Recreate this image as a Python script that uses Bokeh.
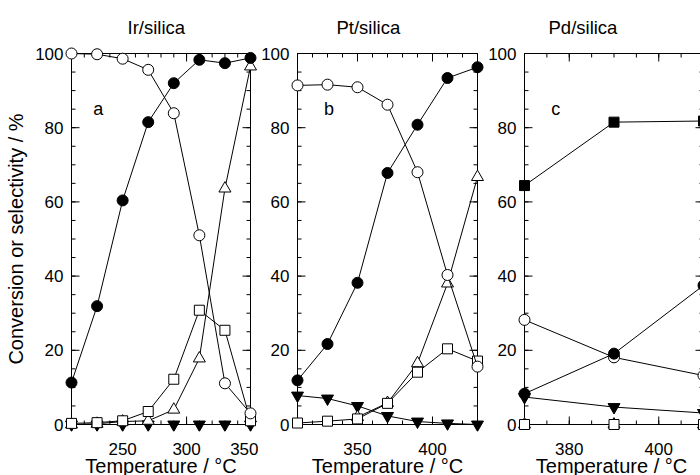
from bokeh.plotting import figure
from bokeh.models import Range1d, FixedTicker, Label
from bokeh.layouts import row
from bokeh.embed import file_html
from bokeh.resources import INLINE

FONT = "Liberation Sans"
NAN = float("nan")

# ---- Data: Ir/silica ----
ir_T = [210, 230, 250, 270, 290, 310, 330, 350]
ir_conv = [11.3, 31.9, 60.4, 81.5, 92.0, 98.3, 97.4, 98.8]
ir_ocirc = [100.0, 99.8, 98.6, 95.6, 83.9, 51.0, 11.1, 3.0]
ir_tri = [0.0, 0.2, 0.8, 1.0, 4.0, 17.8, 63.6, 96.5]
ir_sq = [0.3, 0.5, 1.0, 3.5, 12.2, 30.8, 25.4, 1.0]
ir_dtri = [0, 0, 0, 0, 0, 0, 0, 0]

# ---- Data: Pt/silica ----
pt_T = [310, 330, 350, 370, 390, 410, 430]
pt_conv = [11.9, 21.7, 38.2, 67.8, 80.8, 93.4, 96.3]
pt_ocirc = [91.4, 91.6, 90.9, 86.2, 68.0, 40.3, 15.6]
pt_tri_T = [350, 370, 390, 410, 430]
pt_tri = [2.0, 5.8, 16.5, 38.0, 66.7]
pt_sq = [0.4, 0.9, 1.5, 5.7, 14.1, 20.4, 17.1]
pt_dtri = [7.8, 7.0, 5.0, 2.3, 0.8, 0.3, 0.0]

# ---- Data: Pd/silica ----
pd_T = [370, 390, 410]
pd_fsq = [64.4, 81.5, 81.8]
pd_conv = [8.3, 19.1, 37.5]
pd_ocirc = [28.2, 18.1, 13.2]
pd_dtri = [7.4, 4.7, 3.1]
pd_sq = [0, 0, 0]
pd_tri = [0, 0, 0]

# axis limits and ticks
ir_xlim = (210, 350)
pt_xlim = (310, 430)
pd_xlim = (370, 410)
ylim = (0, 100)
ir_xmaj = [250, 300, 350]
pt_xmaj = [350, 400]
pd_xmaj = [380, 400]
ir_xmin = list(range(210, 351, 10))
pt_xmin = list(range(310, 431, 10))
pd_xmin = list(range(370, 411, 5))
y_major = [0, 20, 40, 60, 80, 100]
y_minor = list(range(0, 101, 5))

# ---- layout (pixels) ----
Y_TOP, Y_BOT = 53, 424      # page y of the 100 and 0 lines
PAD = 7                     # room around the axes box for edge markers
TOTAL_H = 475
MAJ_LEN, MIN_LEN = 8, 4


def tick_path(ticks, base, length, vertical):
    a, b = [], []
    for t in ticks:
        a += [t, t, NAN]
        b += [base, base + length, NAN]
    return (a, b) if vertical else (b, a)


def make_panel(title, xlim, xmaj, xmin, fig_left, fig_right, ax_left, ax_right,
               ylabel, letter, lx, title_offset):
    frame_l = ax_left - PAD
    frame_r = min(ax_right + PAD, fig_right)
    sx = (ax_right - ax_left) / (xlim[1] - xlim[0])
    sy = (Y_BOT - Y_TOP) / (ylim[1] - ylim[0])
    xr = Range1d(xlim[0] - (ax_left - frame_l) / sx, xlim[1] + (frame_r - ax_right) / sx)
    yr = Range1d(ylim[0] - PAD / sy, ylim[1] + PAD / sy)
    p = figure(frame_width=frame_r - frame_l, frame_height=(Y_BOT - Y_TOP) + 2 * PAD,
               output_backend="svg", toolbar_location=None, x_range=xr, y_range=yr,
               min_border_left=frame_l - fig_left, min_border_right=fig_right - frame_r,
               min_border_top=Y_TOP - PAD, min_border_bottom=TOTAL_H - (Y_BOT + PAD),
               title=title)
    p.title.align = "left"
    p.title.offset = title_offset
    p.title.standoff = 18
    p.title.text_font = FONT
    p.title.text_font_size = "18.5px"
    p.title.text_font_style = "normal"
    p.title.text_color = "black"
    p.grid.visible = False
    p.outline_line_color = None
    p.background_fill_color = "white"
    p.border_fill_color = "white"

    # library axes carry the tick labels and axis titles
    xa = p.xaxis[0]
    ya = p.yaxis[0]
    xa.ticker = FixedTicker(ticks=xmaj, minor_ticks=[])
    ya.ticker = FixedTicker(ticks=y_major, minor_ticks=[])
    xa.axis_label = "Temperature / °C"
    if ylabel:
        ya.axis_label = "Conversion or selectivity / %"
    for ax in [xa, ya]:
        ax.axis_line_color = None
        ax.major_tick_line_color = None
        ax.minor_tick_line_color = None
        ax.major_tick_out = 0
        ax.major_tick_in = 0
        ax.major_label_text_font = FONT
        ax.major_label_text_font_size = "17px"
        ax.major_label_text_color = "black"
        ax.axis_label_text_font = FONT
        ax.axis_label_text_font_size = "20px"
        ax.axis_label_text_font_style = "normal"
        ax.axis_label_text_color = "black"
    xa.major_label_standoff = 11
    xa.axis_label_standoff = -3
    ya.major_label_standoff = 1
    ya.axis_label_standoff = 5

    # axes box with inward ticks on all four sides
    p.line(x=[xlim[0], xlim[1], xlim[1], xlim[0], xlim[0]],
           y=[ylim[0], ylim[0], ylim[1], ylim[1], ylim[0]],
           line_color="black", line_width=1)
    for ticks, ln in [(xmaj, MAJ_LEN), (xmin, MIN_LEN)]:
        d = ln / sy
        xs, ys = tick_path(ticks, ylim[0], d, True)
        p.line(xs, ys, line_color="black", line_width=1)
        xs, ys = tick_path(ticks, ylim[1], -d, True)
        p.line(xs, ys, line_color="black", line_width=1)
    for ticks, ln in [(y_major, MAJ_LEN), (y_minor, MIN_LEN)]:
        d = ln / sx
        xs, ys = tick_path(ticks, xlim[0], d, False)
        p.line(xs, ys, line_color="black", line_width=1)
        xs, ys = tick_path(ticks, xlim[1], -d, False)
        p.line(xs, ys, line_color="black", line_width=1)

    lab = Label(x=lx, y=85, text=letter, text_font=FONT, text_font_size="18px",
                text_align="center", text_baseline="middle", text_color="black")
    p.add_layout(lab)
    return p


def series(p, x, y, marker, fill, size):
    p.line(x, y, line_color="black", line_width=1)
    p.scatter(x, y, marker=marker, size=size, fill_color=fill, line_color="black", line_width=1)


pa = make_panel("Ir/silica", ir_xlim, ir_xmaj, ir_xmin, 0, 258, 71, 250, True, "a", 231, 63)
series(pa, ir_T, ir_dtri, "inverted_triangle", "black", 12)
series(pa, ir_T, ir_tri, "triangle", "white", 12)
series(pa, ir_T, ir_sq, "square", "white", 10)
series(pa, ir_T, ir_ocirc, "circle", "white", 11)
series(pa, ir_T, ir_conv, "circle", "black", 11)

pb = make_panel("Pt/silica", pt_xlim, pt_xmaj, pt_xmin, 258, 484, 296, 476, False, "b", 331, 46)
series(pb, pt_T, pt_dtri, "inverted_triangle", "black", 12)
series(pb, pt_tri_T, pt_tri, "triangle", "white", 12)
series(pb, pt_T, pt_sq, "square", "white", 10)
series(pb, pt_T, pt_ocirc, "circle", "white", 11)
series(pb, pt_T, pt_conv, "circle", "black", 11)

pc = make_panel("Pd/silica", pd_xlim, pd_xmaj, pd_xmin, 484, 700, 519, 698, False, "c", 377, 31)
series(pc, pd_T, pd_tri, "triangle", "white", 12)
series(pc, pd_T, pd_sq, "square", "white", 10)
series(pc, pd_T, pd_dtri, "inverted_triangle", "black", 12)
series(pc, pd_T, pd_ocirc, "circle", "white", 11)
series(pc, pd_T, pd_conv, "circle", "black", 11)
series(pc, pd_T, pd_fsq, "square", "black", 10)

layout = row(pa, pb, pc)
open("out.html", "w").write(file_html(layout, INLINE))
